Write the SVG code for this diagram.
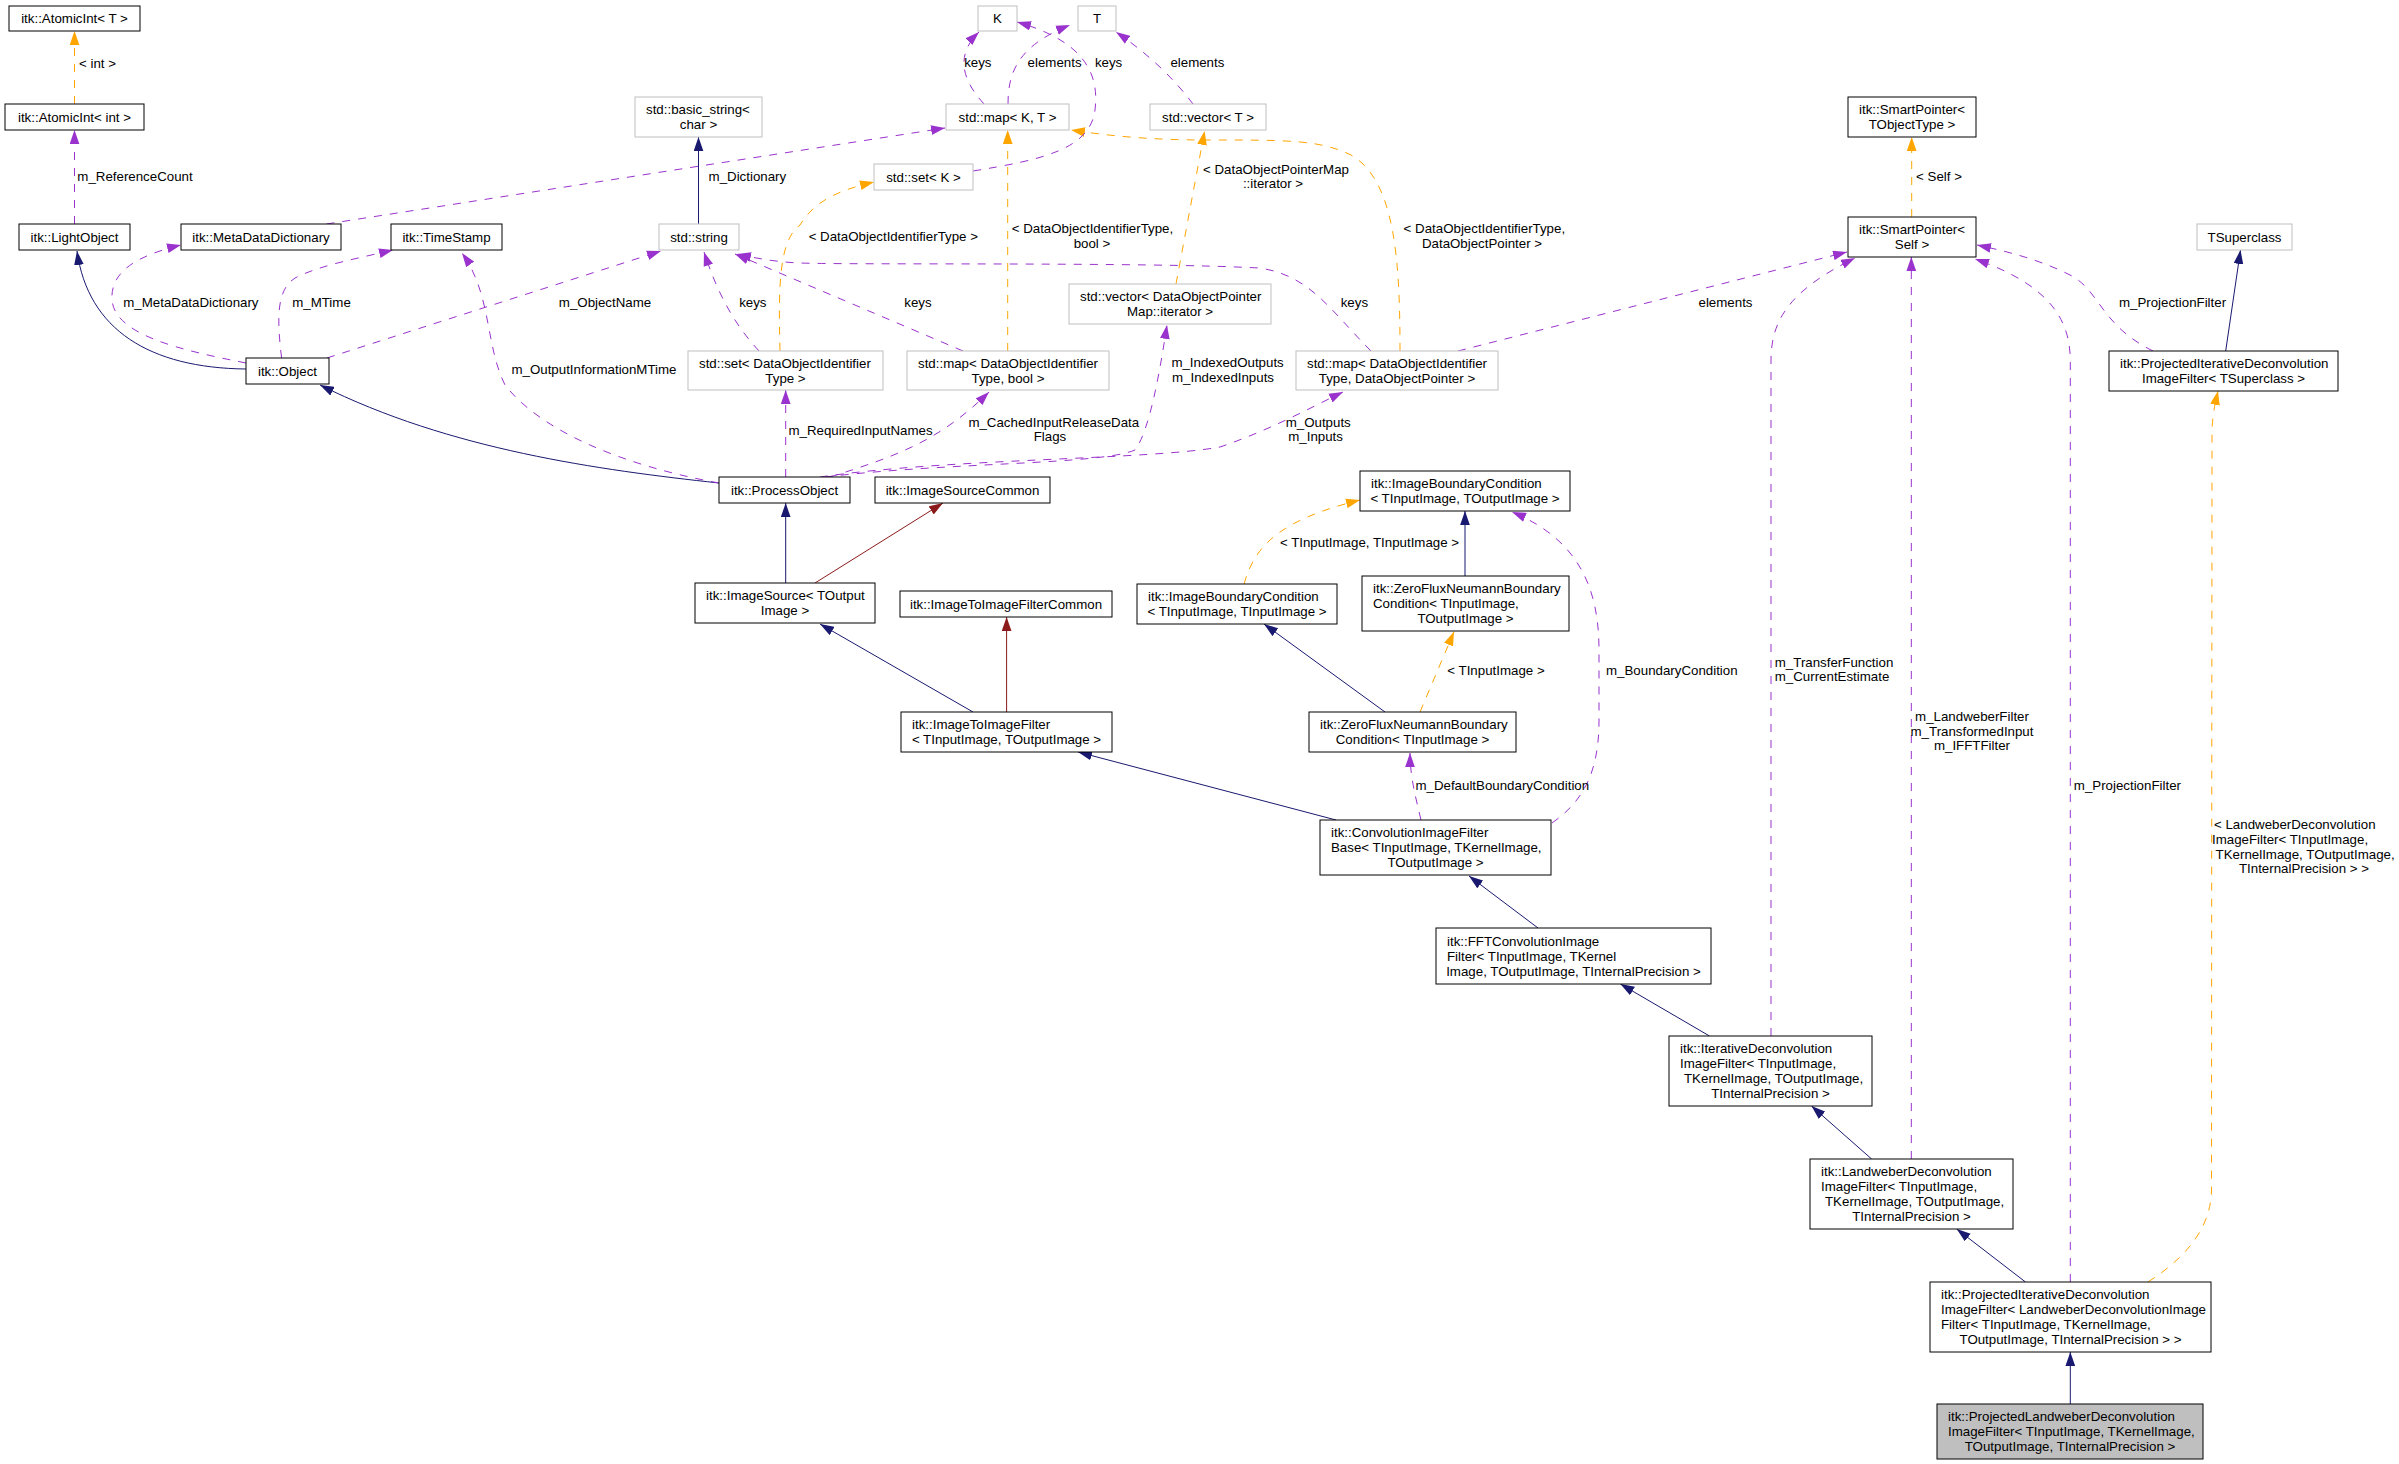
<svg xmlns="http://www.w3.org/2000/svg" width="2399" height="1464" viewBox="0 0 2399 1464">
<defs>
<style>
text{font-family:"Liberation Sans",Arial,Helvetica,sans-serif;font-size:13.3px;fill:#000}
.c{text-anchor:middle}
.n rect{fill:#fff;stroke:#000;stroke-width:1}
.g rect{fill:#fff;stroke:#bfbfbf;stroke-width:1}
.f rect{fill:#bfbfbf;stroke:#000;stroke-width:1}
.e path{fill:none;stroke-width:1}
.b{stroke:#191970}
.r{stroke:#8b1a1a}
.o{stroke:#ffa500;stroke-dasharray:8,8}
.p{stroke:#9a32cd;stroke-dasharray:8,8}
</style>
<marker id="mb" markerUnits="userSpaceOnUse" markerWidth="14" markerHeight="10" viewBox="0 0 13 9" refX="13" refY="4.5" orient="auto"><path d="M0,0L13,4.5L0,9z" fill="#191970"/></marker>
<marker id="mr" markerUnits="userSpaceOnUse" markerWidth="14" markerHeight="10" viewBox="0 0 13 9" refX="13" refY="4.5" orient="auto"><path d="M0,0L13,4.5L0,9z" fill="#8b1a1a"/></marker>
<marker id="mo" markerUnits="userSpaceOnUse" markerWidth="14" markerHeight="10" viewBox="0 0 13 9" refX="13" refY="4.5" orient="auto"><path d="M0,0L13,4.5L0,9z" fill="#ffa500"/></marker>
<marker id="mp" markerUnits="userSpaceOnUse" markerWidth="14" markerHeight="10" viewBox="0 0 13 9" refX="13" refY="4.5" orient="auto"><path d="M0,0L13,4.5L0,9z" fill="#9a32cd"/></marker>
</defs>
<rect width="2399" height="1464" fill="#fff"/>

<g id="connectors" class="e">
<!-- inheritance -->
<path class="b" marker-end="url(#mb)" d="M246,369 C150,368 88,330 77,251"/>
<path class="b" marker-end="url(#mb)" d="M719,483 C600,470 450,450 320,385"/>
<path class="b" marker-end="url(#mb)" d="M698.5,224 L698.5,137"/>
<path class="b" marker-end="url(#mb)" d="M785.7,583 L785.7,503"/>
<path class="b" marker-end="url(#mb)" d="M973,712 L820,624"/>
<path class="b" marker-end="url(#mb)" d="M1465,576 L1465,511"/>
<path class="b" marker-end="url(#mb)" d="M1385,712 L1264,624"/>
<path class="b" marker-end="url(#mb)" d="M1336,820 L1078,752"/>
<path class="b" marker-end="url(#mb)" d="M1538,928 L1469,876"/>
<path class="b" marker-end="url(#mb)" d="M1709.5,1036 L1620.4,984"/>
<path class="b" marker-end="url(#mb)" d="M1871.6,1159 L1811.5,1106"/>
<path class="b" marker-end="url(#mb)" d="M2025.5,1282 L1956.7,1229"/>
<path class="b" marker-end="url(#mb)" d="M2070.3,1404 L2070.3,1352"/>
<path class="b" marker-end="url(#mb)" d="M2225.7,351 L2240.5,250"/>
<path class="r" marker-end="url(#mr)" d="M815,583 L943,503"/>
<path class="r" marker-end="url(#mr)" d="M1006.6,712 L1006.6,617"/>
<!-- template instances -->
<path class="o" marker-end="url(#mo)" d="M74.5,104 L74.5,31"/>
<path class="o" marker-end="url(#mo)" d="M1911.7,217 L1911.7,137"/>
<path class="o" marker-end="url(#mo)" d="M780,351 C778,280 780,240 800,225 C815,200 840,190 874,182"/>
<path class="o" marker-end="url(#mo)" d="M1007.7,351 L1007.7,130"/>
<path class="o" marker-end="url(#mo)" d="M1176,284 L1204.6,131"/>
<path class="o" marker-end="url(#mo)" d="M1400,351 C1400,260 1395,180 1351,155 C1320,140 1290,140 1208,140 C1150,140 1110,136 1071,130"/>
<path class="o" marker-end="url(#mo)" d="M1244,584 C1255,545 1280,520 1360,500"/>
<path class="o" marker-end="url(#mo)" d="M1420,712 L1454,631.7"/>
<path class="o" marker-end="url(#mo)" d="M2148,1282 C2190,1255 2211,1225 2211.5,1190 L2212,430 C2213,410 2216,400 2218,391"/>
<!-- usage -->
<path class="p" marker-end="url(#mp)" d="M74.5,224 L74.5,130"/>
<path class="p" marker-end="url(#mp)" d="M246,363 C180,350 115,335 112,300 C110,270 140,255 181,245"/>
<path class="p" marker-end="url(#mp)" d="M281.6,358 C277,320 276,290 295,278 C320,265 360,258 393,250"/>
<path class="p" marker-end="url(#mp)" d="M327,358 L661,251"/>
<path class="p" marker-end="url(#mp)" d="M719,483 C620,465 540,430 505,385 C485,345 492,295 462,253"/>
<path class="p" marker-end="url(#mp)" d="M759,351 C735,325 718,295 704,252"/>
<path class="p" marker-end="url(#mp)" d="M963,351 L735,254"/>
<path class="p" marker-end="url(#mp)" d="M1371,351 C1330,310 1310,275 1259,268 C1150,262 850,265 800,263 C775,262 755,258 737,254"/>
<path class="p" marker-end="url(#mp)" d="M984,104 C962,80 955,55 979,32"/>
<path class="p" marker-end="url(#mp)" d="M1008,104 C1008,70 1020,45 1070,25"/>
<path class="p" marker-end="url(#mp)" d="M973,171 C1040,160 1090,150 1095,110 C1100,70 1080,40 1017,22"/>
<path class="p" marker-end="url(#mp)" d="M1193,104 C1175,80 1150,55 1116,32"/>
<path class="p" marker-end="url(#mp)" d="M326.5,224 L945,128"/>
<path class="p" marker-end="url(#mp)" d="M785.7,477 L785.7,390"/>
<path class="p" marker-end="url(#mp)" d="M830,477 C900,455 940,440 989,392"/>
<path class="p" marker-end="url(#mp)" d="M825,477 C950,462 1100,465 1135,450 C1150,430 1160,370 1167,325"/>
<path class="p" marker-end="url(#mp)" d="M820,477 C950,458 1150,460 1220,447 C1270,430 1310,408 1343,392"/>
<path class="p" marker-end="url(#mp)" d="M1458,351 L1847,252"/>
<path class="p" marker-end="url(#mp)" d="M1421,820 C1415,795 1410,775 1410,753"/>
<path class="p" marker-end="url(#mp)" d="M1552,823 C1585,800 1599,770 1599,720 L1599,650 C1599,590 1580,540 1512,512"/>
<path class="p" marker-end="url(#mp)" d="M1771,1036 L1771,360 C1771,320 1790,290 1855,258"/>
<path class="p" marker-end="url(#mp)" d="M1911.3,1159 L1911.3,257"/>
<path class="p" marker-end="url(#mp)" d="M2070.3,1282 L2070.3,360 C2070,320 2050,285 1975,259"/>
<path class="p" marker-end="url(#mp)" d="M2153,351 C2100,325 2100,290 2070,275 C2040,260 2010,252 1977,245"/>
</g>

<g id="edge-labels">
<text x="97.5" y="67.8" class="c">&lt; int &gt;</text>
<text x="135" y="181" class="c">m_ReferenceCount</text>
<text x="747.4" y="181" class="c">m_Dictionary</text>
<text x="190.9" y="307" class="c">m_MetaDataDictionary</text>
<text x="321.5" y="307" class="c">m_MTime</text>
<text x="605" y="307" class="c">m_ObjectName</text>
<text x="752.8" y="307" class="c">keys</text>
<text x="918" y="307" class="c">keys</text>
<text x="1354.4" y="307" class="c">keys</text>
<text x="1725.5" y="307" class="c">elements</text>
<text x="2172.5" y="307" class="c">m_ProjectionFilter</text>
<text x="594" y="373.8" class="c">m_OutputInformationMTime</text>
<text x="893.3" y="241.2" class="c">&lt; DataObjectIdentifierType &gt;</text>
<text x="1011.7" y="233.2">&lt; DataObjectIdentifierType,</text>
<text x="1092" y="247.8" class="c">bool &gt;</text>
<text x="1203" y="173.5">&lt; DataObjectPointerMap</text>
<text x="1273" y="188.2" class="c">::iterator &gt;</text>
<text x="1403.6" y="233.2">&lt; DataObjectIdentifierType,</text>
<text x="1482" y="247.8" class="c">DataObjectPointer &gt;</text>
<text x="1939" y="181.2" class="c">&lt; Self &gt;</text>
<text x="977.8" y="67.2" class="c">keys</text>
<text x="1054.6" y="67.2" class="c">elements</text>
<text x="1108.6" y="67.2" class="c">keys</text>
<text x="1197.4" y="67.2" class="c">elements</text>
<text x="788.5" y="434.5">m_RequiredInputNames</text>
<text x="968.4" y="427.2">m_CachedInputReleaseData</text>
<text x="1050" y="441.2" class="c">Flags</text>
<text x="1171.4" y="366.8">m_IndexedOutputs</text>
<text x="1223" y="381.5" class="c">m_IndexedInputs</text>
<text x="1285.7" y="427.2">m_Outputs</text>
<text x="1315.6" y="441.2" class="c">m_Inputs</text>
<text x="1369.5" y="547.2" class="c">&lt; TInputImage, TInputImage &gt;</text>
<text x="1496" y="674.5" class="c">&lt; TInputImage &gt;</text>
<text x="1671.8" y="674.5" class="c">m_BoundaryCondition</text>
<text x="1774.8" y="666.8">m_TransferFunction</text>
<text x="1774.8" y="681.2">m_CurrentEstimate</text>
<text x="1972" y="721.2" class="c">m_LandweberFilter</text>
<text x="1972" y="735.5" class="c">m_TransformedInput</text>
<text x="1972" y="749.8" class="c">m_IFFTFilter</text>
<text x="1502.3" y="789.8" class="c">m_DefaultBoundaryCondition</text>
<text x="2127.4" y="789.8" class="c">m_ProjectionFilter</text>
<text x="2214" y="829.2">&lt; LandweberDeconvolution</text>
<text x="2212" y="843.8">ImageFilter&lt; TInputImage,</text>
<text x="2215.6" y="858.8">TKernelImage, TOutputImage,</text>
<text x="2304" y="873.2" class="c">TInternalPrecision &gt; &gt;</text>
</g>

<g id="n1" class="n"><rect x="9" y="6" width="131" height="25"/><text x="74.5" y="23.2" class="c">itk::AtomicInt&lt; T &gt;</text></g>
<g id="n2" class="n"><rect x="5" y="104" width="139" height="26"/><text x="74.5" y="121.7" class="c">itk::AtomicInt&lt; int &gt;</text></g>
<g id="n3" class="n"><rect x="19" y="224" width="111" height="26"/><text x="74.5" y="241.7" class="c">itk::LightObject</text></g>
<g id="n4" class="n"><rect x="181" y="224" width="160" height="26"/><text x="261" y="241.7" class="c">itk::MetaDataDictionary</text></g>
<g id="n5" class="n"><rect x="391" y="224" width="111" height="26"/><text x="446.5" y="241.7" class="c">itk::TimeStamp</text></g>
<g id="n6" class="g"><rect x="659" y="224" width="80" height="26"/><text x="699" y="241.7" class="c">std::string</text></g>
<g id="n7" class="g"><rect x="635" y="97" width="127" height="40"/><text x="646" y="114.2">std::basic_string&lt;</text><text x="698.5" y="129.2" class="c">char &gt;</text></g>
<g id="n8" class="n"><rect x="246" y="358" width="83" height="26"/><text x="287.5" y="375.7" class="c">itk::Object</text></g>
<g id="n9" class="g"><rect x="688" y="351" width="195" height="39"/><text x="699" y="367.7">std::set&lt; DataObjectIdentifier</text><text x="785.5" y="382.7" class="c">Type &gt;</text></g>
<g id="n10" class="n"><rect x="719" y="477" width="131" height="26"/><text x="784.5" y="494.7" class="c">itk::ProcessObject</text></g>
<g id="n11" class="g"><rect x="978" y="6" width="39" height="25"/><text x="997.5" y="23.2" class="c">K</text></g>
<g id="n12" class="g"><rect x="1078" y="6" width="38" height="25"/><text x="1097" y="23.2" class="c">T</text></g>
<g id="n13" class="g"><rect x="946" y="104" width="123" height="26"/><text x="1007.5" y="121.7" class="c">std::map&lt; K, T &gt;</text></g>
<g id="n14" class="g"><rect x="1150" y="104" width="116" height="26"/><text x="1208" y="121.7" class="c">std::vector&lt; T &gt;</text></g>
<g id="n15" class="g"><rect x="874" y="164" width="99" height="26"/><text x="923.5" y="181.7" class="c">std::set&lt; K &gt;</text></g>
<g id="n16" class="g"><rect x="1069" y="284" width="202" height="40"/><text x="1080" y="301.2">std::vector&lt; DataObjectPointer</text><text x="1170" y="316.2" class="c">Map::iterator &gt;</text></g>
<g id="n17" class="g"><rect x="907" y="351" width="202" height="39"/><text x="918" y="367.7">std::map&lt; DataObjectIdentifier</text><text x="1008" y="382.7" class="c">Type, bool &gt;</text></g>
<g id="n18" class="g"><rect x="1296" y="351" width="202" height="39"/><text x="1307" y="367.7">std::map&lt; DataObjectIdentifier</text><text x="1397" y="382.7" class="c">Type, DataObjectPointer &gt;</text></g>
<g id="n19" class="n"><rect x="875" y="477" width="175" height="26"/><text x="962.5" y="494.7" class="c">itk::ImageSourceCommon</text></g>
<g id="n20" class="n"><rect x="1360" y="471" width="210" height="40"/><text x="1371" y="488.2">itk::ImageBoundaryCondition</text><text x="1465" y="503.2" class="c">&lt; TInputImage, TOutputImage &gt;</text></g>
<g id="n21" class="n"><rect x="1848" y="97" width="128" height="40"/><text x="1859" y="114.2">itk::SmartPointer&lt;</text><text x="1912" y="129.2" class="c">TObjectType &gt;</text></g>
<g id="n22" class="n"><rect x="1848" y="217" width="128" height="40"/><text x="1859" y="234.2">itk::SmartPointer&lt;</text><text x="1912" y="249.2" class="c">Self &gt;</text></g>
<g id="n23" class="g"><rect x="2197" y="224" width="95" height="26"/><text x="2244.5" y="241.7" class="c">TSuperclass</text></g>
<g id="n24" class="n"><rect x="2109" y="351" width="229" height="40"/><text x="2120" y="368.2">itk::ProjectedIterativeDeconvolution</text><text x="2223.5" y="383.2" class="c">ImageFilter&lt; TSuperclass &gt;</text></g>
<g id="n25" class="n"><rect x="695" y="583" width="180" height="40"/><text x="706" y="600.2">itk::ImageSource&lt; TOutput</text><text x="785" y="615.2" class="c">Image &gt;</text></g>
<g id="n26" class="n"><rect x="900" y="591" width="212" height="26"/><text x="1006" y="608.7" class="c">itk::ImageToImageFilterCommon</text></g>
<g id="n27" class="n"><rect x="1137" y="584" width="200" height="40"/><text x="1148" y="601.2">itk::ImageBoundaryCondition</text><text x="1237" y="616.2" class="c">&lt; TInputImage, TInputImage &gt;</text></g>
<g id="n28" class="n"><rect x="1362" y="576" width="207" height="55"/><text x="1373" y="593.2">itk::ZeroFluxNeumannBoundary</text><text x="1373" y="608.2">Condition&lt; TInputImage,</text><text x="1465.5" y="623.2" class="c">TOutputImage &gt;</text></g>
<g id="n29" class="n"><rect x="901" y="712" width="211" height="40"/><text x="912" y="729.2">itk::ImageToImageFilter</text><text x="1006.5" y="744.2" class="c">&lt; TInputImage, TOutputImage &gt;</text></g>
<g id="n30" class="n"><rect x="1309" y="712" width="207" height="40"/><text x="1320" y="729.2">itk::ZeroFluxNeumannBoundary</text><text x="1412.5" y="744.2" class="c">Condition&lt; TInputImage &gt;</text></g>
<g id="n31" class="n"><rect x="1320" y="820" width="231" height="55"/><text x="1331" y="837.2">itk::ConvolutionImageFilter</text><text x="1331" y="852.2">Base&lt; TInputImage, TKernelImage,</text><text x="1435.5" y="867.2" class="c">TOutputImage &gt;</text></g>
<g id="n32" class="n"><rect x="1436" y="928" width="275" height="56"/><text x="1447" y="945.7">itk::FFTConvolutionImage</text><text x="1447" y="960.7">Filter&lt; TInputImage, TKernel</text><text x="1573.5" y="975.7" class="c">Image, TOutputImage, TInternalPrecision &gt;</text></g>
<g id="n33" class="n"><rect x="1669" y="1036" width="203" height="70"/><text x="1680" y="1053.2">itk::IterativeDeconvolution</text><text x="1680" y="1068.2">ImageFilter&lt; TInputImage,</text><text x="1684" y="1083.2">TKernelImage, TOutputImage,</text><text x="1770.5" y="1098.2" class="c">TInternalPrecision &gt;</text></g>
<g id="n34" class="n"><rect x="1810" y="1159" width="203" height="70"/><text x="1821" y="1176.2">itk::LandweberDeconvolution</text><text x="1821" y="1191.2">ImageFilter&lt; TInputImage,</text><text x="1825" y="1206.2">TKernelImage, TOutputImage,</text><text x="1911.5" y="1221.2" class="c">TInternalPrecision &gt;</text></g>
<g id="n35" class="n"><rect x="1930" y="1282" width="281" height="70"/><text x="1941" y="1299.2">itk::ProjectedIterativeDeconvolution</text><text x="1941" y="1314.2">ImageFilter&lt; LandweberDeconvolutionImage</text><text x="1941" y="1329.2">Filter&lt; TInputImage, TKernelImage,</text><text x="2070.5" y="1344.2" class="c">TOutputImage, TInternalPrecision &gt; &gt;</text></g>
<g id="n36" class="f"><rect x="1937" y="1404" width="266" height="55"/><text x="1948" y="1421.2">itk::ProjectedLandweberDeconvolution</text><text x="1948" y="1436.2">ImageFilter&lt; TInputImage, TKernelImage,</text><text x="2070" y="1451.2" class="c">TOutputImage, TInternalPrecision &gt;</text></g>
</svg>
